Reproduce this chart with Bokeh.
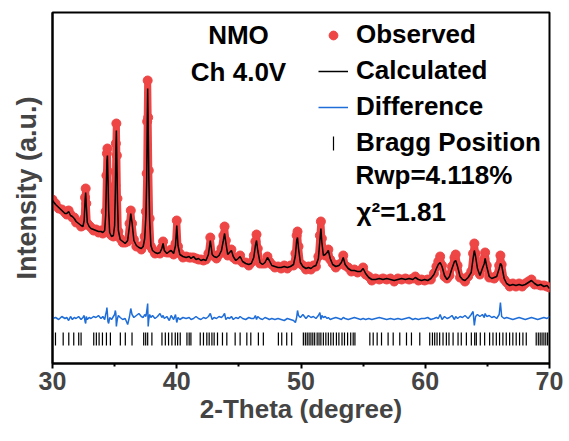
import math
from bokeh.plotting import figure
from bokeh.models import Range1d, FixedTicker, Legend, LegendItem, Label, BoxAnnotation
from bokeh.embed import file_html
from bokeh.resources import INLINE

# ---------------- data ----------------
two_theta = [
    30.0, 30.25, 30.5, 30.75, 31.0, 31.15, 31.3, 31.45, 31.6, 31.75,
    31.9, 32.1, 32.3, 32.45, 32.55, 32.62, 32.67, 32.72, 32.8, 32.95,
    33.1, 33.3, 33.5, 33.7, 33.9, 34.05, 34.2, 34.28, 34.34, 34.38,
    34.42, 34.46, 34.52, 34.6, 34.75, 34.9, 35.0, 35.06, 35.1, 35.14,
    35.18, 35.23, 35.3, 35.45, 35.65, 35.85, 36.05, 36.2, 36.3, 36.4,
    36.55, 36.75, 36.95, 37.15, 37.3, 37.42, 37.52, 37.58, 37.62, 37.66,
    37.7, 37.75, 37.82, 37.92, 38.05, 38.25, 38.45, 38.65, 38.8, 38.9,
    39.0, 39.2, 39.4, 39.55, 39.75, 39.9, 40.0, 40.1, 40.25, 40.5,
    40.75, 41.0, 41.15, 41.35, 41.55, 41.75, 41.95, 42.15, 42.35, 42.55,
    42.7, 42.85, 43.0, 43.2, 43.4, 43.6, 43.75, 43.85, 43.95, 44.1,
    44.25, 44.4, 44.55, 44.75, 44.95, 45.1, 45.3, 45.55, 45.8, 46.0,
    46.2, 46.33, 46.42, 46.52, 46.7, 46.9, 47.1, 47.3, 47.45, 47.65,
    47.9, 48.15, 48.4, 48.65, 48.9, 49.15, 49.4, 49.55, 49.65, 49.72,
    49.8, 49.95, 50.15, 50.4, 50.6, 50.8, 51.0, 51.2, 51.4, 51.52,
    51.6, 51.68, 51.8, 51.95, 52.1, 52.2, 52.35, 52.55, 52.8, 53.05,
    53.25, 53.4, 53.55, 53.8, 54.05, 54.3, 54.55, 54.8, 55.0, 55.2,
    55.45, 55.7, 56.0, 56.3, 56.6, 56.9, 57.2, 57.5, 57.8, 58.1,
    58.4, 58.7, 59.0, 59.2, 59.45, 59.7, 59.95, 60.2, 60.45, 60.7,
    60.9, 61.05, 61.2, 61.35, 61.55, 61.75, 61.95, 62.15, 62.35, 62.45,
    62.6, 62.8, 63.0, 63.2, 63.45, 63.7, 63.85, 63.95, 64.05, 64.2,
    64.4, 64.6, 64.75, 64.82, 64.95, 65.15, 65.35, 65.55, 65.75, 65.95,
    66.05, 66.15, 66.35, 66.55, 66.8, 67.05, 67.3, 67.55, 67.8, 68.05,
    68.3, 68.55, 68.8, 69.05, 69.3, 69.55, 69.8, 70.0,
]

observed = [
    164, 160, 155, 154, 151, 149, 153, 149, 146, 146,
    141, 141, 137, 138, 145, 166, 175, 160, 140, 138,
    136, 133, 134, 131, 133, 130, 134, 152, 188, 210,
    215, 192, 155, 130, 128, 127, 140, 178, 220, 240,
    208, 165, 132, 125, 121, 121, 122, 140, 153, 140,
    124, 117, 117, 114, 118, 127, 152, 190, 242, 283,
    246, 193, 145, 117, 114, 110, 111, 110, 116, 122,
    112, 111, 111, 114, 109, 120, 143, 117, 110, 106,
    107, 106, 106, 106, 105, 104, 104, 103, 104, 110,
    126, 108, 108, 105, 109, 115, 128, 137, 123, 108,
    112, 114, 106, 104, 104, 108, 101, 101, 98, 101,
    108, 122, 129, 115, 100, 100, 100, 107, 102, 99,
    96, 97, 95, 98, 95, 98, 98, 110, 128, 132,
    117, 100, 98, 94, 97, 94, 98, 97, 107, 128,
    142, 125, 110, 108, 112, 114, 104, 100, 96, 99,
    100, 108, 98, 96, 92, 94, 91, 93, 96, 89,
    87, 83, 85, 84, 85, 84, 85, 82, 85, 84,
    85, 84, 85, 87, 83, 84, 83, 84, 84, 90,
    97, 102, 107, 98, 87, 85, 88, 97, 106, 109,
    98, 86, 85, 82, 87, 92, 110, 120, 110, 94,
    89, 97, 105, 111, 98, 86, 86, 85, 88, 98,
    108, 99, 84, 81, 77, 80, 77, 80, 77, 80,
    82, 84, 79, 79, 78, 78, 77, 76,
]

calculated = [
    163, 159, 156, 153, 150, 150, 152, 148, 147, 145,
    142, 140, 138, 137, 143, 163, 171, 158, 141, 137,
    135, 134, 133, 132, 132, 131, 133, 148, 183, 203,
    208, 188, 153, 131, 127, 128, 138, 173, 213, 233,
    203, 163, 133, 124, 122, 120, 123, 138, 150, 141,
    123, 118, 116, 115, 117, 125, 148, 183, 233, 275,
    238, 188, 143, 118, 113, 111, 110, 111, 115, 120,
    113, 110, 112, 113, 110, 118, 138, 118, 109, 107,
    106, 107, 105, 107, 104, 105, 103, 104, 103, 109,
    123, 109, 107, 106, 108, 113, 123, 130, 121, 109,
    111, 113, 107, 103, 105, 107, 102, 100, 99, 100,
    106, 118, 123, 113, 101, 99, 101, 106, 103, 98,
    97, 96, 96, 97, 96, 97, 99, 108, 123, 126,
    115, 101, 97, 95, 96, 95, 97, 98, 105, 123,
    135, 121, 108, 109, 111, 113, 105, 99, 97, 98,
    101, 106, 99, 95, 93, 93, 92, 92, 95, 90,
    86, 84, 84, 85, 84, 85, 84, 83, 84, 85,
    84, 85, 84, 86, 84, 83, 84, 83, 85, 89,
    95, 99, 101, 97, 88, 84, 87, 95, 102, 103,
    97, 87, 84, 83, 86, 91, 105, 113, 107, 95,
    88, 95, 100, 105, 97, 87, 85, 86, 87, 95,
    100, 98, 85, 80, 78, 79, 78, 79, 78, 79,
    81, 83, 80, 78, 79, 77, 78, 75,
]

difference = [
    45, 46, 44, 47, 45, 46, 43, 47, 44, 46,
    45, 47, 44, 46, 48, 42, 40, 47, 44, 46,
    45, 47, 46, 48, 45, 47, 44, 49, 52, 56,
    50, 42, 40, 46, 44, 47, 49, 53, 50, 37,
    41, 45, 48, 46, 44, 45, 39, 47, 55, 49,
    46, 48, 50, 47, 46, 49, 47, 52, 56, 60,
    37, 44, 49, 46, 48, 45, 47, 50, 46, 48,
    45, 47, 43, 48, 44, 49, 41, 46, 44, 46,
    45, 46, 44, 45, 47, 45, 44, 46, 45, 47,
    50, 44, 46, 45, 47, 46, 48, 50, 44, 46,
    45, 47, 44, 46, 45, 47, 45, 44, 46, 45,
    45, 48, 44, 47, 45, 44, 46, 45, 44, 45,
    44, 45, 44, 43, 45, 44, 43, 41, 46, 53,
    48, 46, 49, 45, 48, 46, 47, 45, 48, 51,
    44, 48, 46, 47, 45, 46, 44, 45, 46, 45,
    44, 46, 45, 44, 45, 46, 45, 44, 45, 44,
    45, 44, 45, 46, 45, 44, 45, 44, 45, 44,
    45, 46, 44, 45, 44, 45, 45, 46, 44, 45,
    46, 45, 49, 44, 47, 45, 46, 48, 44, 47,
    45, 47, 46, 48, 45, 49, 52, 38, 47, 49,
    47, 49, 46, 50, 47, 48, 46, 47, 45, 49,
    61, 47, 45, 46, 45, 44, 45, 46, 45, 44,
    45, 46, 45, 44, 45, 46, 45, 47,
]

bragg_positions = [
    30.24, 30.86, 31.31, 31.71, 32.11, 32.30, 33.32, 33.53, 33.75, 34.02,
    34.34, 34.66, 35.46, 35.86, 36.40, 37.34, 37.50, 37.66, 38.00, 38.81,
    39.08, 39.34, 39.61, 39.88, 40.07, 40.28, 40.82, 41.00, 41.14, 41.89,
    42.15, 42.42, 42.61, 42.83, 43.01, 43.28, 43.68, 44.03, 44.70, 45.10,
    45.64, 45.96, 46.57, 46.97, 48.18, 48.45, 48.85, 49.25, 50.19, 50.35,
    50.50, 50.65, 50.80, 50.95, 51.10, 51.30, 51.45, 51.60, 51.80, 52.00,
    52.20, 52.40, 52.60, 52.85, 53.05, 53.30, 53.50, 53.75, 54.00, 54.20,
    54.34, 55.54, 55.81, 56.13, 56.48, 57.01, 57.42, 57.95, 58.49, 58.89,
    59.56, 60.36, 60.58, 60.76, 60.95, 61.16, 61.43, 61.70, 61.91, 62.24,
    62.64, 62.90, 63.31, 63.71, 63.98, 64.11, 64.43, 64.78, 65.18, 65.45,
    65.72, 65.98, 66.25, 66.52, 66.79, 67.05, 67.32, 67.59, 67.86, 68.13,
    68.93, 69.10, 69.25, 69.40, 69.55, 69.70, 69.85,
]
bragg_level = 24.5

x_ticks = [30, 40, 50, 60, 70]
x_minor = [35, 45, 55, 65]

RED = "#EE4545"
BLUE = "#1F6ED8"
FONT = "Liberation Sans"

# ---------------- figure ----------------
p = figure(width=569, height=441, output_backend="svg", toolbar_location=None,
           x_range=Range1d(30, 70), y_range=Range1d(0, 351),
           min_border_left=52, min_border_right=20, min_border_top=12,
           min_border_bottom=78)
p.background_fill_color = "white"
p.border_fill_color = "white"
p.xgrid.visible = False
p.ygrid.visible = False
p.outline_line_color = "black"
p.outline_line_width = 2

# observed: red band + dots
p.line(two_theta, observed, line_width=7, color=RED, line_join="round")
obs_r = p.scatter(two_theta, observed, size=9, fill_color=RED, line_color=RED)
calc_r = p.line(two_theta, calculated, line_width=1.5, color="black")
diff_r = p.line(two_theta, difference, line_width=1.5, color=BLUE)
bragg_r = p.scatter(bragg_positions, [bragg_level] * len(bragg_positions),
                    marker="dash", angle=math.pi / 2, size=13,
                    line_color="black", line_width=1.2)
# invisible stand-in for the Bragg legend key (vertical tick drawn below)
bragg_key = p.scatter([], [], marker="dash", line_alpha=0, fill_alpha=0)

# axes
xa = p.xaxis[0]
xa.ticker = FixedTicker(ticks=x_ticks, minor_ticks=x_minor)
xa.axis_label = "2-Theta (degree)"
xa.axis_label_text_font = FONT
xa.axis_label_text_font_style = "bold"
xa.axis_label_text_font_size = "26px"
xa.axis_label_standoff = 1
xa.major_label_text_font = FONT
xa.major_label_text_font_style = "bold"
xa.major_label_text_font_size = "25px"
xa.major_label_standoff = 3
xa.axis_line_width = 2
xa.major_tick_line_width = 2
xa.minor_tick_line_width = 2
xa.major_tick_in = 0
xa.major_tick_out = 5
xa.minor_tick_in = 0
xa.minor_tick_out = 3

ya = p.yaxis[0]
ya.ticker = FixedTicker(ticks=[])
ya.axis_label = "Intensity (a.u.)"
ya.axis_label_text_font = FONT
ya.axis_label_text_font_style = "bold"
ya.axis_label_text_font_size = "27px"
ya.axis_label_standoff = 11
ya.axis_line_width = 2
ya.major_tick_line_color = None
ya.minor_tick_line_color = None
ya.major_label_text_font_size = "0px"

# legend
legend = Legend(items=[
    LegendItem(label="Observed", renderers=[obs_r]),
    LegendItem(label="Calculated", renderers=[calc_r]),
    LegendItem(label="Difference", renderers=[diff_r]),
    LegendItem(label="Bragg Position", renderers=[bragg_key]),
], location=(266, 205))
legend.label_text_font = FONT
legend.label_text_font_style = "bold"
legend.label_text_font_size = "26px"
legend.label_text_color = "black"
legend.glyph_width = 30
legend.glyph_height = 22
legend.label_height = 22
legend.spacing = 5
legend.label_standoff = 8
legend.padding = 0
legend.margin = 0
legend.border_line_alpha = 0
legend.background_fill_alpha = 0
p.add_layout(legend)

# vertical tick for the Bragg legend key (screen units inside the frame)
p.add_layout(BoxAnnotation(left=280.4, right=281.6, bottom=213, top=227,
                           left_units="screen", right_units="screen",
                           bottom_units="screen", top_units="screen",
                           fill_color="black", fill_alpha=1.0,
                           line_alpha=0))

def add_label(txt, x, y, align="left"):
    p.add_layout(Label(x=x, y=y, x_units="screen", y_units="screen", text=txt,
                       text_font=FONT, text_font_style="bold",
                       text_font_size="26px", text_align=align,
                       text_baseline="middle", text_color="black"))

add_label("NMO", 186, 329, "center")
add_label("Ch 4.0V", 186, 292, "center")
add_label("Rwp=4.118%", 303, 189)
add_label("χ²=1.81", 304, 152)

open("out.html", "w").write(file_html(p, INLINE))
